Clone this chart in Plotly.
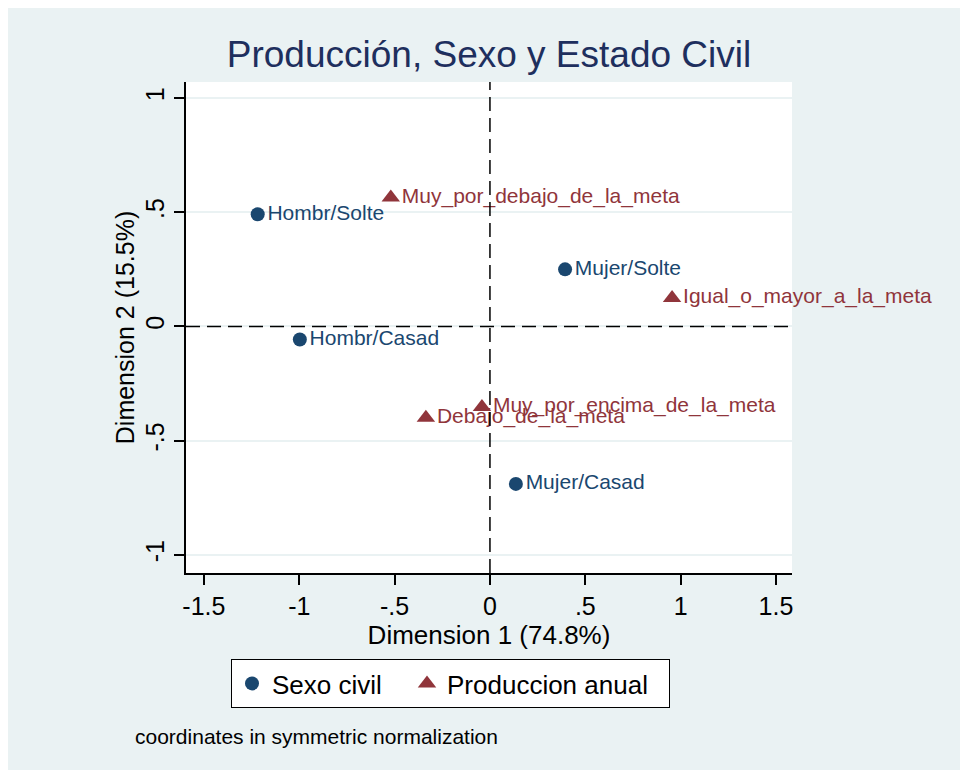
import plotly.graph_objects as go

# Data
sexo_labels = ["Hombr/Solte", "Hombr/Casad", "Mujer/Solte", "Mujer/Casad"]
sexo_dim1 = [-1.218, -0.997, 0.394, 0.136]
sexo_dim2 = [0.491, -0.057, 0.250, -0.689]

prod_labels = ["Muy_por_debajo_de_la_meta", "Igual_o_mayor_a_la_meta",
               "Muy_por_encima_de_la_meta", "Debajo_de_la_meta"]
prod_dim1 = [-0.520, 0.955, -0.042, -0.336]
prod_dim2 = [0.565, 0.125, -0.352, -0.400]

x_ticks = [-1.5, -1, -0.5, 0, 0.5, 1, 1.5]
x_ticklabels = ["-1.5", "-1", "-.5", "0", ".5", "1", "1.5"]
y_ticks = [-1, -0.5, 0, 0.5, 1]
y_ticklabels = ["-1", "-.5", "0", ".5", "1"]

NAVY = "#1a476f"
MAROON = "#90353b"
BG = "#eaf2f3"
FONT = "Liberation Sans, Arial, sans-serif"

# page has an 8px body margin: work in screen px, convert to figure px
OFF = 8
W, H = 968 - OFF, 770 - OFF
L, T = 186 - OFF, 82 - OFF
pw, ph = 606, 491
R, B = W - L - pw, H - T - ph

def px_x(sx):
    return (sx - OFF - L) / pw
def px_y(sy):
    return (T + ph - (sy - OFF)) / ph

fig = go.Figure()
fig.add_trace(go.Scatter(
    x=sexo_dim1, y=sexo_dim2, mode="markers+text", name="Sexo civil",
    text=sexo_labels, textposition="middle right", cliponaxis=False,
    textfont=dict(color=NAVY, size=21, family=FONT),
    marker=dict(symbol="circle", size=14, color=NAVY),
    legendwidth=130,
))
fig.add_trace(go.Scatter(
    x=prod_dim1, y=prod_dim2, mode="markers+text", name="Produccion anual",
    text=prod_labels, textposition="middle right", cliponaxis=False,
    textfont=dict(color=MAROON, size=21, family=FONT),
    marker=dict(symbol="triangle-up", size=16, color=MAROON),
    legendwidth=217,
))

# reference dashed lines at zero
fig.add_shape(type="line", xref="x", yref="paper", x0=0, x1=0, y0=0, y1=1,
              line=dict(color="black", width=1.5, dash="14px,7px"))
fig.add_shape(type="line", xref="paper", yref="y", x0=0, x1=1, y0=0, y1=0,
              line=dict(color="black", width=1.5, dash="14px,7px"))

fig.add_annotation(text="coordinates in symmetric normalization", xref="paper", yref="paper",
                   x=px_x(133), y=px_y(736), xanchor="left", yanchor="middle",
                   showarrow=False, font=dict(size=21, color="black", family=FONT))

fig.update_layout(
    width=W, height=H,
    margin=dict(l=L, r=R, t=T, b=B),
    paper_bgcolor=BG, plot_bgcolor="white",
    title=dict(text="Producción, Sexo y Estado Civil", x=0.5, xref="paper",
               y=1 - (54 - OFF) / H, yanchor="middle", xanchor="center",
               font=dict(size=37, color="#1e2f5e", family=FONT)),
    showlegend=True,
    legend=dict(orientation="h", x=px_x(231), y=px_y(659),
                xanchor="left", yanchor="top",
                bgcolor="white", bordercolor="black", borderwidth=1,
                font=dict(size=26, color="black", family=FONT)),
    font=dict(family=FONT),
)
fig.update_xaxes(range=[-1.594, 1.584], tickvals=x_ticks, ticktext=x_ticklabels,
                 showgrid=False, zeroline=False, showline=True, linecolor="black", linewidth=1.5,
                 ticks="outside", ticklen=10, tickcolor="black", tickwidth=1.5,
                 tickfont=dict(size=25, color="black"),
                 title=dict(text="Dimension 1 (74.8%)", font=dict(size=26, color="black"), standoff=0))
fig.update_yaxes(range=[-1.079, 1.07], tickvals=y_ticks, ticktext=y_ticklabels,
                 showgrid=True, gridcolor=BG, gridwidth=2, zeroline=False,
                 showline=True, linecolor="black", linewidth=1.5,
                 ticks="outside", ticklen=10, tickcolor="black", tickwidth=1.5,
                 tickangle=-90,
                 tickfont=dict(size=25, color="black"),
                 title=dict(text="Dimension 2 (15.5%)", font=dict(size=25, color="black"), standoff=0))

fig.write_html("out.html")
